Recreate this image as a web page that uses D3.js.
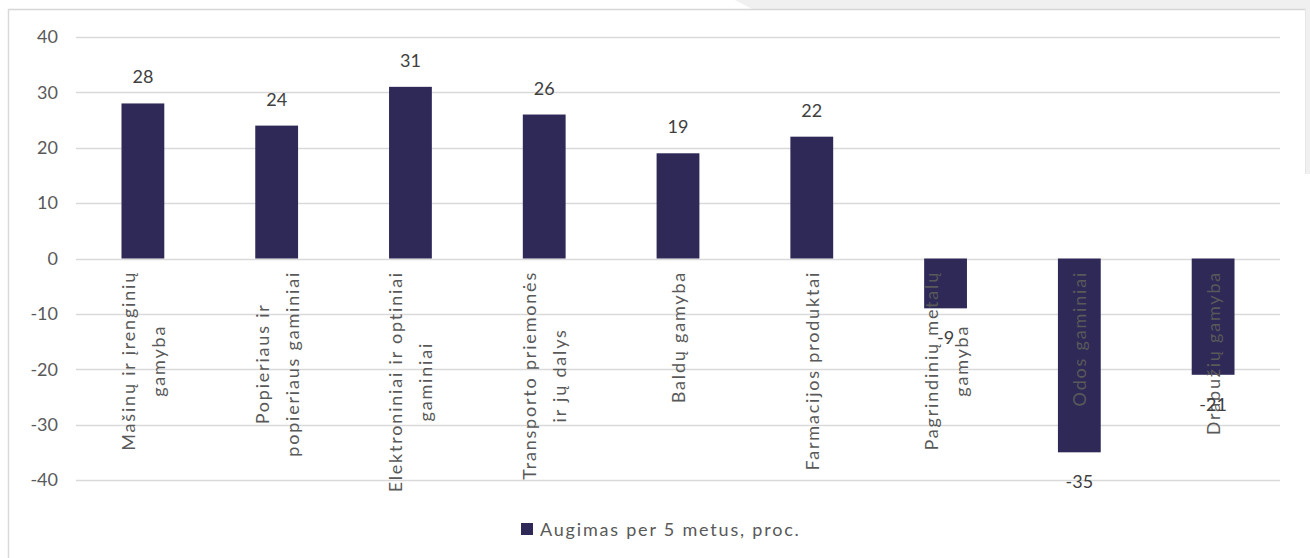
<!DOCTYPE html>
<html>
<head>
<meta charset="utf-8">
<script src="https://cdn.jsdelivr.net/npm/d3@7"></script>
<style>
  html, body { margin: 0; padding: 0; background: #ffffff; }
  svg { display: block; }
  text { font-family: Lato, "Open Sans", sans-serif; }
</style>
</head>
<body>
<svg id="chart" width="1310" height="558"></svg>
<script>
// ---- data ----
const categories = [
  "Mašinų ir įrenginių\ngamyba",
  "Popieriaus ir\npopieriaus gaminiai",
  "Elektroniniai ir optiniai\ngaminiai",
  "Transporto priemonės\nir jų dalys",
  "Baldų gamyba",
  "Farmacijos produktai",
  "Pagrindinių metalų\ngamyba",
  "Odos gaminiai",
  "Drabužių gamyba"
];
const growthValues = [28, 24, 31, 26, 19, 22, -9, -35, -21];
const yTicks = [40, 30, 20, 10, 0, -10, -20, -30, -40];
const seriesName = "Augimas per 5 metus, proc.";

// ---- layout ----
const W = 1310, H = 558;
const plotLeft = 76, plotRight = 1280;
const yTop = 37, yBottom = 480;
const barColor = "#2f2958";
const gridColor = "#d9d9d9";
const textColor = "#595959";

const svg = d3.select("#chart");

// frame decorations
svg.append("path")
  .attr("d", "M735,0 L1310,0 L1310,9 L752,9 Z")
  .attr("fill", "#f0f0f0");
svg.append("rect").attr("x", 1306).attr("y", 9).attr("width", 4).attr("height", 165).attr("fill", "#f0f0f0");
svg.append("line").attr("x1", 8).attr("x2", 1306).attr("y1", 9.5).attr("y2", 9.5)
  .attr("stroke", "#d6d6d6").attr("stroke-width", 1.5);
svg.append("line").attr("x1", 8.5).attr("x2", 8.5).attr("y1", 9).attr("y2", H)
  .attr("stroke", "#d9d9d9").attr("stroke-width", 1.5);
svg.append("line").attr("x1", 1305.5).attr("x2", 1305.5).attr("y1", 9).attr("y2", 174)
  .attr("stroke", "#e6e6e6").attr("stroke-width", 1);

// scales
const x = d3.scaleBand().domain(categories).range([plotLeft, plotRight]).paddingInner(0.68).paddingOuter(0.34);
const y = d3.scaleLinear().domain([-40, 40]).range([yBottom, yTop]);

// gridlines
svg.append("g").selectAll("line").data(yTicks).join("line")
  .attr("x1", plotLeft).attr("x2", plotRight)
  .attr("y1", d => Math.round(y(d)) + 0.5).attr("y2", d => Math.round(y(d)) + 0.5)
  .attr("stroke", gridColor).attr("stroke-width", 1.5);

// y axis labels
const yAxis = d3.axisLeft(y).tickValues(yTicks).tickSize(0).tickPadding(0).tickFormat(d => String(d));
const yg = svg.append("g").attr("transform", "translate(58,0)").call(yAxis);
yg.select(".domain").remove();
yg.selectAll("text").attr("fill", textColor).style("font-size", "18px").style("font-family", "Lato, sans-serif");

// bars
svg.append("g").selectAll("rect").data(growthValues).join("rect")
  .attr("x", (d, i) => x(categories[i]))
  .attr("width", x.bandwidth())
  .attr("y", d => y(Math.max(0, d)))
  .attr("height", d => Math.abs(y(d) - y(0)))
  .attr("fill", barColor);

// category labels (rotated, wrapped)
const lineGap = 30;
const labelTop = 271;
const catG = svg.append("g");
categories.forEach((c, i) => {
  const lines = c.split("\n");
  const cx = x(c) + x.bandwidth() / 2;
  const g = catG.append("g");
  const texts = lines.map((ln, j) => g.append("text")
      .text(ln)
      .attr("fill", textColor)
      .style("font-size", "18px")
      .style("letter-spacing", "1.8px")
      .attr("text-anchor", "middle")
      .attr("dominant-baseline", "central"));
  const maxLen = d3.max(texts, t => t.node().getComputedTextLength());
  const cy = labelTop + maxLen / 2;
  texts.forEach((t, j) => {
    const off = (j - (lines.length - 1) / 2) * lineGap;
    t.attr("transform", `translate(${cx + off},${cy}) rotate(-90)`);
  });
});

// data labels
svg.append("g").selectAll("text").data(growthValues).join("text")
  .attr("x", (d, i) => x(categories[i]) + x.bandwidth() / 2)
  .attr("y", d => d >= 0 ? y(d) - 27 : y(d) + 29)
  .attr("text-anchor", "middle")
  .attr("dominant-baseline", "central")
  .attr("fill", "#404040")
  .style("font-size", "18px")
  .text(d => String(d));

// legend
const lg = svg.append("g").attr("transform", "translate(521,523)");
lg.append("rect").attr("width", 12).attr("height", 12).attr("fill", barColor);
lg.append("text").attr("x", 19).attr("y", 6).attr("dominant-baseline", "central")
  .attr("fill", textColor).style("font-size", "18px").style("letter-spacing", "1.8px")
  .text(seriesName);
</script>
</body>
</html>
